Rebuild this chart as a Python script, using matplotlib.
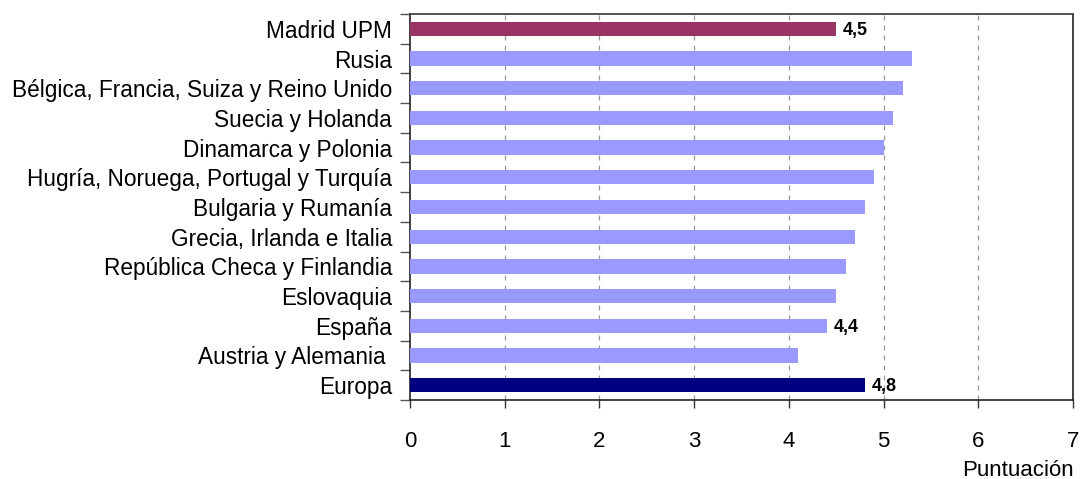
import matplotlib
matplotlib.use("Agg")
import matplotlib.pyplot as plt
import numpy as np

categories = ["Madrid UPM", "Rusia", "Bélgica, Francia, Suiza y Reino Unido", "Suecia y Holanda",
              "Dinamarca y Polonia", "Hugría, Noruega, Portugal y Turquía", "Bulgaria y Rumanía",
              "Grecia, Irlanda e Italia", "República Checa y Finlandia", "Eslovaquia", "España",
              "Austria y Alemania ", "Europa"]
values = [4.5, 5.3, 5.2, 5.1, 5.0, 4.9, 4.8, 4.7, 4.6, 4.5, 4.4, 4.1, 4.8]
colors = ["#993366"] + ["#9999FF"] * 11 + ["#000080"]
value_labels = {0: "4,5", 10: "4,4", 12: "4,8"}
xticks = [0, 1, 2, 3, 4, 5, 6, 7]
xlabel = "Puntuación"

plt.rcParams['font.family'] = ['Liberation Sans', 'DejaVu Sans']

fig = plt.figure(figsize=(10.8, 4.79), dpi=100)
ax = fig.add_axes([410/1080, 1 - 400/479, (1073-410)/1080, (400-14)/479])

n = len(categories)
y = np.arange(n)
ax.barh(y, values, height=0.48, color=colors, zorder=3)
ax.set_ylim(n - 0.5, -0.5)
ax.set_xlim(0, 7)

for i, lab in value_labels.items():
    ax.text(values[i] + 0.07, y[i] + 0.06, lab, va='center', ha='left',
            fontsize=13, fontweight='bold', color='black', zorder=4)

ax.set_yticks(y)
ax.set_yticklabels(categories, fontsize=16.3)
ax.set_yticks(np.arange(n + 1) - 0.5, minor=True)
ax.tick_params(axis='y', which='major', length=0, pad=13)
ax.tick_params(axis='y', which='minor', length=7, width=1, color='#555555', direction='out')

ax.set_xticks(xticks)
ax.set_xticklabels([str(t) for t in xticks], fontsize=16)
ax.tick_params(axis='x', which='major', length=6, width=1, color='#333333', direction='out', pad=16)

for xv in xticks[1:-1]:
    ax.axvline(xv, color='#999999', linestyle=(0, (4, 4)), linewidth=0.9, zorder=1)

for s in ['left', 'bottom', 'right']:
    ax.spines[s].set_color('#222222')
    ax.spines[s].set_linewidth(1.2)
ax.spines['top'].set_color('#444444')
ax.spines['top'].set_linewidth(1.3)

fig.text(1074/1080, 1 - 470/479, xlabel, ha='right', va='center', fontsize=16)

fig.savefig("out.png", dpi=100)
